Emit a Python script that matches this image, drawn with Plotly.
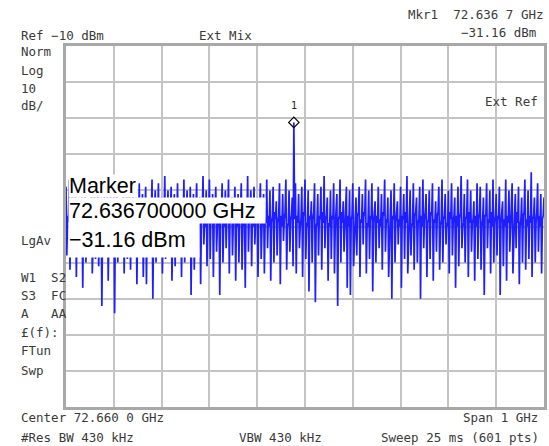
import plotly.graph_objects as go

# ---- data ----
center_ghz = 72.660
span_ghz = 1.0
n_points = 601
ref_level_dbm = -10
db_per_div = 10
marker_freq_ghz = 72.6367
marker_level_dbm = -31.16

trace_dbm = [
    -49,-68,-57,-59, -47,-72,-58,-56, -51,-65,-60,-57, -48,-74,-56,-59, -52,-67,-58,-60,
    -50,-77,-57,-58, -47,-70,-59,-56, -53,-66,-57,-60, -48,-73,-58,-57, -51,-69,-56,-59,
    -46,-71,-60,-57, -52,-82,-58,-59, -49,-64,-57,-56, -50,-75,-59,-58, -47,-68,-56,-60,
    -51,-84,-58,-57, -48,-70,-60,-59, -53,-66,-57,-56, -49,-73,-58,-60, -46,-69,-59,-57,
    -50,-72,-56,-58, -47,-65,-59,-57, -52,-76,-58,-60, -48,-67,-57,-56, -51,-74,-60,-58,
    -49,-76,-57,-59, -53,-68,-56,-58, -47,-80,-59,-57, -50,-70,-58,-60, -48,-66,-57,-56,
    -52,-73,-59,-58, -46,-69,-57,-60, -50,-64,-58,-56, -49,-75,-60,-57, -51,-71,-56,-59,
    -48,-67,-58,-57, -53,-74,-57,-59, -47,-70,-59,-58, -50,-66,-56,-60, -49,-79,-58,-57,
    -51,-72,-60,-56, -48,-68,-57,-59, -52,-76,-58,-57, -46,-65,-59,-60, -50,-71,-57,-58,
    -47,-69,-56,-59, -51,-74,-58,-57, -49,-67,-60,-58, -53,-79,-57,-56, -48,-70,-59,-60,
    -50,-66,-58,-57, -47,-73,-56,-59, -52,-68,-59,-58, -49,-75,-57,-60, -51,-70,-58,-56,
    -48,-72,-60,-58, -53,-77,-57,-59, -46,-67,-58,-57, -50,-71,-56,-60, -49,-65,-59,-58,
    -52,-74,-57,-56, -48,-69,-60,-58, -51,-73,-58,-59, -47,-66,-57,-60, -50,-75,-59,-57,
    -49,-70,-56,-58, -53,-68,-59,-57, -48,-76,-57,-60, -51,-64,-58,-56, -47,-72,-60,-59,
    -50,-67,-58,-57, -52,-71,-31.16,-58, -48,-73,-57,-59, -51,-66,-60,-58, -49,-74,-56,-57,
    -47,-69,-59,-60, -50,-78,-57,-58, -53,-70,-58,-56, -48,-81,-60,-59, -51,-68,-57,-58,
    -49,-72,-56,-59, -46,-66,-58,-57, -52,-75,-59,-60, -50,-69,-57,-58, -48,-73,-60,-56,
    -51,-82,-58,-57, -47,-70,-56,-59, -53,-67,-59,-58, -49,-77,-57,-60, -50,-79,-58,-57,
    -48,-71,-60,-58, -52,-68,-57,-56, -49,-74,-58,-59, -51,-65,-56,-57, -47,-73,-59,-60,
    -50,-69,-57,-58, -48,-78,-59,-56, -53,-70,-57,-59, -49,-66,-58,-60, -51,-72,-56,-57,
    -47,-67,-58,-59, -52,-74,-60,-57, -50,-80,-57,-58, -48,-70,-59,-56, -53,-65,-58,-60,
    -49,-77,-57,-58, -51,-69,-56,-59, -46,-73,-58,-57, -50,-68,-60,-59, -48,-72,-57,-56,
    -52,-70,-59,-58, -49,-80,-57,-60, -47,-66,-58,-56, -51,-74,-59,-58, -50,-69,-56,-57,
    -48,-75,-58,-59, -53,-67,-57,-56, -49,-72,-60,-58, -47,-70,-58,-57, -51,-65,-59,-60,
    -50,-73,-56,-58, -48,-68,-59,-57, -52,-77,-57,-60, -49,-71,-58,-56, -46,-66,-60,-59,
    -51,-70,-58,-57, -47,-74,-56,-59, -50,-67,-59,-58, -53,-75,-57,-60, -48,-69,-58,-56,
    -49,-72,-60,-58, -52,-79,-57,-57, -48,-66,-58,-59, -50,-73,-56,-60, -47,-70,-59,-57,
    -51,-68,-57,-58, -49,-79,-59,-56, -53,-71,-58,-60, -47,-75,-57,-59, -50,-67,-60,-58,
    -48,-73,-58,-57, -51,-66,-56,-59, -49,-76,-60,-58, -52,-70,-57,-56, -47,-72,-58,-60,
    -50,-69,-57,-59, -45,-74,-58,-57, -52,-70,-59,-56, -48,-67,-57,-60, -51,-73,-58,-57,
    -52,
]

start_ghz = center_ghz - span_ghz / 2
stop_ghz = center_ghz + span_ghz / 2
freq_ghz = [start_ghz + i * span_ghz / (n_points - 1) for i in range(n_points)]

left_labels = [("Norm", 52), ("Log", 70), ("10", 88), ("dB/", 105),
               ("LgAv", 241), ("W1  S2", 277), ("S3  FC", 295), ("A   AA", 313),
               ("£(f):", 332), ("FTun", 350), ("Swp", 370)]

# ---- figure ----
W, H = 549, 446
ml, mr, mt, mb = 66, 2, 46, 39
PW, PH = W - ml - mr, H - mt - mb

fig = go.Figure()
fig.add_trace(go.Scatter(x=freq_ghz, y=trace_dbm, mode="lines",
                         line=dict(color="#1e1eff", width=1.7), hoverinfo="skip",
                         showlegend=False))
fig.add_trace(go.Scatter(x=[marker_freq_ghz], y=[marker_level_dbm], mode="markers",
                         marker=dict(symbol="diamond-open", size=8,
                                     color="#000000", line=dict(width=1.2)),
                         showlegend=False, hoverinfo="skip"))

grid = "#c4c4c4"
fig.update_xaxes(range=[start_ghz, stop_ghz], dtick=span_ghz / 10, tick0=start_ghz,
                 showticklabels=False, ticks="", showgrid=True, gridcolor=grid,
                 gridwidth=1.5, zeroline=False, showline=True, linecolor="#a8a8a8",
                 linewidth=2.5, mirror=True)
fig.update_yaxes(range=[ref_level_dbm - 10 * db_per_div, ref_level_dbm],
                 dtick=db_per_div, tick0=ref_level_dbm,
                 showticklabels=False, ticks="", showgrid=True, gridcolor=grid,
                 gridwidth=1.5, zeroline=False, showline=True, linecolor="#a8a8a8",
                 linewidth=2.5, mirror=True)

def px_x(p):
    return (p - ml) / PW

def px_y(p):
    return 1 - (p - mt) / PH

small = dict(family="DejaVu Sans Mono", size=12.5, color="#3a3a3a")
ann = []

def text(t, x, y, anchor="left", font=small):
    ann.append(dict(text=t, x=px_x(x), y=px_y(y), xref="paper", yref="paper",
                    xanchor=anchor, yanchor="middle", showarrow=False, font=font))

text("Ref −10 dBm", 19, 35)
text("Ext Mix", 198, 35)
text("Mkr1  72.636 7 GHz", 548, 15, "right")
text("−31.16 dBm", 541, 33, "right")
text("Ext Ref", 543, 102, "right")
for t, yy in left_labels:
    text(t, 19, yy)
text("Center 72.660 0 GHz", 19, 417)
text("#Res BW 430 kHz", 19, 437)
text("VBW 430 kHz", 238, 437)
text("Span 1 GHz", 543, 417, "right")
text("Sweep 25 ms (601 pts)", 544, 437, "right")

# marker number above the marker symbol
ann.append(dict(text="1", x=marker_freq_ghz, y=marker_level_dbm, xref="x", yref="y",
                yshift=17, showarrow=False,
                font=dict(family="DejaVu Sans Mono", size=10, color="#222")))

big = dict(family="Liberation Sans", size=21.5, color="#000000")
box_lines = [("Marker", 186, 68, 22), ("72.636700000 GHz", 210, 196, 25),
             ("−31.16 dBm", 240, 130, 34)]
for t, yy, w, h in box_lines:
    ann.append(dict(text=t, x=px_x(68), y=px_y(yy), xref="paper", yref="paper",
                    xanchor="left", yanchor="middle", align="left", showarrow=False,
                    font=big, bgcolor="#ffffff", borderpad=0, width=w, height=h))

fig.update_layout(width=W, height=H, margin=dict(l=ml, r=mr, t=mt, b=mb, pad=0),
                  plot_bgcolor="#ffffff", paper_bgcolor="#ffffff",
                  annotations=ann, showlegend=False)

fig.write_html("out.html", config={"displayModeBar": False},
               post_script="document.body.style.margin='0px';"
                           "document.body.style.overflow='hidden';")
